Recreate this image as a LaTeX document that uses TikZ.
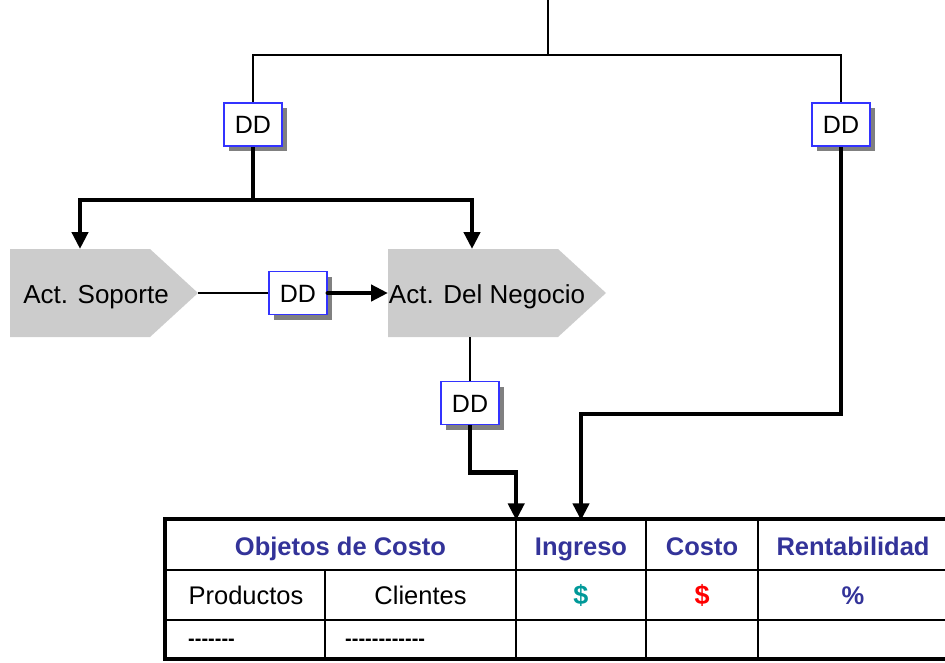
\documentclass[tikz,border=0pt]{standalone}
\usepackage{fontspec}
\setmainfont{Liberation Sans}
\usetikzlibrary{arrows.meta,shadows}
\definecolor{ddblue}{RGB}{51,51,255}
\definecolor{hdblue}{RGB}{51,51,153}
\definecolor{tealc}{RGB}{0,153,153}
\definecolor{actgray}{RGB}{204,204,204}
\begin{document}
\begin{tikzpicture}[x=1pt,y=-1pt,
  txt/.style={font=\fontsize{25}{30}\selectfont, inner sep=0pt, text height=18pt, text depth=0pt},
  dd/.style={txt, draw=ddblue, line width=1.5pt, fill=white,
    minimum width=58pt, minimum height=43pt,
    drop shadow={shadow xshift=5pt, shadow yshift=-5pt, fill=black!50, opacity=1}},
  actfill/.style={fill=actgray},
  acttxt/.style={txt, font=\fontsize{26}{30}\selectfont},
  thinline/.style={line width=1.3pt},
  thickline/.style={line width=4.5pt},
  thickarrow/.style={line width=4.5pt, -{Triangle[width=16pt,length=17pt]}},
  cell/.style={txt, minimum width=#1, minimum height=50pt},
  hdr/.style={font=\fontsize{25.5}{30}\selectfont\bfseries, text=hdblue},
  dashes/.style={font=\fontsize{20}{24}\selectfont\bfseries, inner sep=0pt, anchor=west},
  grid/.style={line width=2pt},
  frame/.style={line width=4pt}
]
\useasboundingbox (0,0) rectangle (945,662);
\clip (0,0) rectangle (945,662);

% activity shapes
\fill[actfill] (10,249) -- (150,249) -- (198,293) -- (150,337) -- (10,337) -- cycle;
\fill[actfill] (388,249) -- (558,249) -- (606,293) -- (558,337) -- (388,337) -- cycle;
\node[acttxt] (sop) at (96,294) {Act. Soporte};
\node[acttxt] (neg) at (487,294) {Act. Del Negocio};
\coordinate (sopN) at (80,249);
\coordinate (sopE) at (198,293);
\coordinate (negN) at (472,249);
\coordinate (negW) at (388,293);
\coordinate (negS) at (470,337);

% driver boxes
\node[dd] (dd1) at (253,124.5) {DD};
\node[dd] (dd2) at (841,124.5) {DD};
\node[dd] (ddm) at (298,293) {DD};
\node[dd] (dd3) at (470,403) {DD};

% cost table cells
\node[cell=351pt, minimum height=51pt, hdr] (obj) at (340.5,546) {Objetos de Costo};
\node[cell=130pt, minimum height=51pt, hdr] (ing) at (581,546) {Ingreso};
\node[cell=112pt, minimum height=51pt, hdr] (cos) at (702,546) {Costo};
\node[cell=187pt, minimum height=51pt, hdr] (ren) at (853,546) {Rentabilidad};
\node[cell=160pt, font=\fontsize{25.5}{30}\selectfont] (prod) at (246,595) {Productos};
\node[cell=191pt, font=\fontsize{25.5}{30}\selectfont] (cli) at (420.5,595) {Clientes};
\node[cell=130pt, hdr, font=\fontsize{27}{30}\selectfont\bfseries, text=tealc] (sing) at (581,595) {\$};
\node[cell=112pt, hdr, font=\fontsize{27}{30}\selectfont\bfseries, text=red] (scos) at (702,595) {\$};
\node[cell=187pt, hdr] (pct) at (853,595) {\%};
\node[dashes] (dsh1) at (188,642) {{-}{-}{-}{-}{-}{-}{-}};
\node[dashes] (dsh2) at (345,642) {{-}{-}{-}{-}{-}{-}{-}{-}{-}{-}{-}{-}};

% table grid
\draw[grid] (165,570) -- (950,570);
\draw[grid] (165,620) -- (950,620);
\draw[grid] (325,570) -- (325,660);
\draw[grid] (516,519) -- (516,660);
\draw[grid] (646,519) -- (646,660);
\draw[grid] (758,519) -- (758,660);
\draw[frame] (165,519) rectangle (960,659);

% feed lines
\coordinate (src) at (548,0);
\coordinate (fork) at (548,55);
\draw[thinline] (src) -- (fork);
\draw[thinline] (fork) -| (dd1.north);
\draw[thinline] (fork) -| (dd2.north);

\coordinate (split) at (253,200);
\draw[thickline] (dd1.south) -- (split);
\draw[thickarrow] (split) -| (sopN);
\draw[thickarrow] (split) -| (negN);

\draw[thinline] (sopE) -- (ddm.west);
\draw[thickarrow, line cap=round] (ddm.east) -- (negW);

\draw[thinline] (negS) -- (dd3.north);
\draw[thickarrow] (dd3.south) -- ++(0,47) -| (obj.north east);
\draw[thickarrow] (dd2.south) -- ++(0,267) -| (ing.north);
\end{tikzpicture}
\end{document}
